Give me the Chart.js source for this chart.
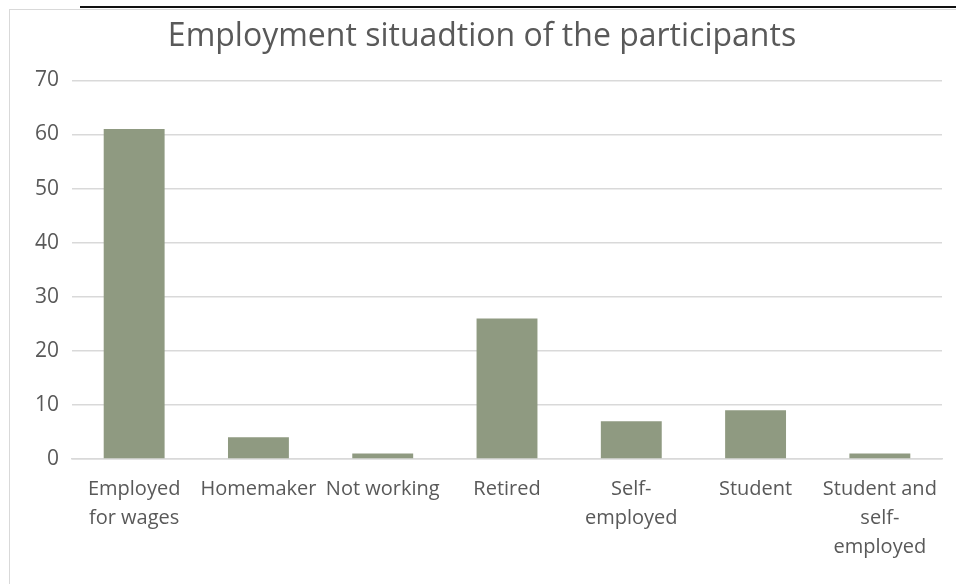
<!DOCTYPE html>
<html>
<head>
<meta charset="utf-8">
<script src="https://cdn.jsdelivr.net/npm/chart.js@4/dist/chart.umd.min.js"></script>
<style>
  html, body { margin: 0; padding: 0; background: #fff; }
  #wrap { position: relative; width: 956px; height: 584px; overflow: hidden; }
  #frame { position: absolute; left: 9px; top: 9px; width: 960px; height: 600px; border: 1px solid #d9d9d9; box-sizing: border-box; }
  #rule { position: absolute; left: 80px; top: 6px; width: 876px; height: 2px; background: #111; }
  #chart { position: absolute; left: 0; top: 0; }
</style>
</head>
<body>
<div id="wrap">
  <div id="frame"></div>
  <div id="rule"></div>
  <canvas id="chart" width="956" height="584"></canvas>
</div>
<script>
const categories = [
    ['Employed', 'for wages'],
    'Homemaker',
    'Not working',
    'Retired',
    ['Self-', 'employed'],
    'Student',
    ['Student and', 'self-', 'employed']
];
const participants = [61, 4, 1, 26, 7, 9, 1];
const yTicks = [0, 10, 20, 30, 40, 50, 60, 70];

const textColor = '#595959';
const fontFamily = '"Open Sans", "Segoe UI", sans-serif';

const ctx = document.getElementById('chart').getContext('2d');
new Chart(ctx, {
    type: 'bar',
    data: {
        labels: categories,
        datasets: [{
            label: 'Participants',
            data: participants,
            backgroundColor: '#8f9a81',
            borderWidth: 0,
            categoryPercentage: 1,
            barPercentage: 0.49
        }]
    },
    options: {
        responsive: false,
        animation: false,
        layout: { padding: { left: 22, right: 14, top: 18, bottom: 14 } },
        plugins: {
            legend: { display: false },
            tooltip: { enabled: false },
            title: {
                display: true,
                text: 'Employment situadtion of the participants',
                color: textColor,
                font: { family: fontFamily, size: 32, weight: 'normal' },
                padding: { top: 0, bottom: 24 }
            }
        },
        scales: {
            y: {
                min: 0,
                max: 70,
                afterBuildTicks: axis => { axis.ticks = yTicks.map(v => ({ value: v })); },
                border: { display: false },
                grid: { color: '#d9d9d9', lineWidth: 1.5, drawTicks: false },
                ticks: { color: textColor, font: { family: fontFamily, size: 21 }, padding: 13 }
            },
            x: {
                border: { display: true, color: '#d9d9d9', width: 1.5 },
                grid: { display: false },
                ticks: {
                    color: textColor,
                    font: { family: fontFamily, size: 20, lineHeight: 1.45 },
                    maxRotation: 0,
                    autoSkip: false,
                    padding: 8
                }
            }
        }
    }
});
</script>
</body>
</html>
